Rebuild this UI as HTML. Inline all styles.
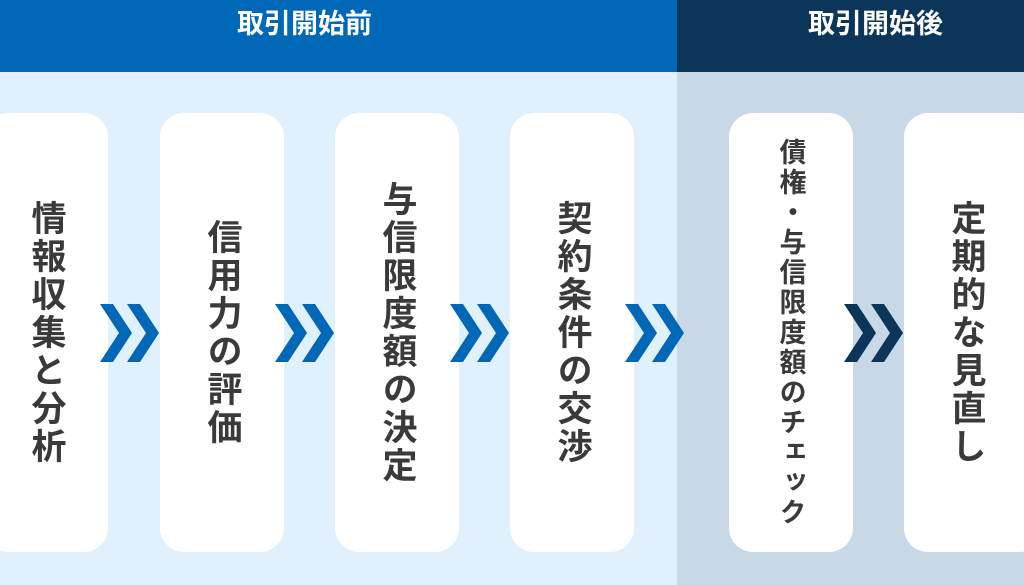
<!DOCTYPE html>
<html><head><meta charset="utf-8"><style>
body{margin:0;width:1024px;height:585px;overflow:hidden;position:relative;font-family:"Liberation Sans","Noto Sans CJK JP",sans-serif;}
.a{position:absolute}
.h{position:absolute;top:0;height:72px}
.ht{position:absolute;top:4px;color:#fff;font-weight:bold;font-size:27px;line-height:40px;white-space:nowrap}
.card{position:absolute;top:113px;height:439px;width:124px;background:#fff;border-radius:24px;display:flex;align-items:center;justify-content:center}
.t{writing-mode:vertical-rl;font-weight:bold;font-size:35px;color:#3a3a3a;letter-spacing:3px}
</style></head><body>
<div class="a" style="left:0;top:72px;width:677px;height:513px;background:#e0f0fc"></div>
<div class="a" style="left:677px;top:72px;width:347px;height:513px;background:#c8d8e6"></div>
<div class="h" style="left:0;width:677px;background:#0068b6"></div>
<div class="h" style="left:677px;width:347px;background:#0b365a"></div>
<div class="ht" style="left:237px">取引開始前</div>
<div class="ht" style="left:808px">取引開始後</div>
<div class="card" style="left:-16px"><span class="t">情報収集と分析</span></div>
<div class="card" style="left:160px"><span class="t">信用力の評価</span></div>
<div class="card" style="left:335px"><span class="t">与信限度額の決定</span></div>
<div class="card" style="left:510px"><span class="t">契約条件の交渉</span></div>
<div class="card" style="left:729px"><span class="t" style="font-size:27px;letter-spacing:3px">債権・与信限度額のチェック</span></div>
<div class="card" style="left:904px;width:140px"><span class="t" style="margin-right:16px">定期的な見直し</span></div>
<svg class="a" style="left:0;top:0" width="1024" height="585">
<defs><g id="c"><polygon points="0,304 13,304 32,333 13,362 0,362 19,333"/><polygon points="27,304 40,304 59,333 40,362 27,362 46,333"/></g></defs>
<use href="#c" x="100" fill="#0068b6"/>
<use href="#c" x="275" fill="#0068b6"/>
<use href="#c" x="450" fill="#0068b6"/>
<use href="#c" x="625" fill="#0068b6"/>
<use href="#c" x="844" fill="#0b365a"/>
</svg>
</body></html>
